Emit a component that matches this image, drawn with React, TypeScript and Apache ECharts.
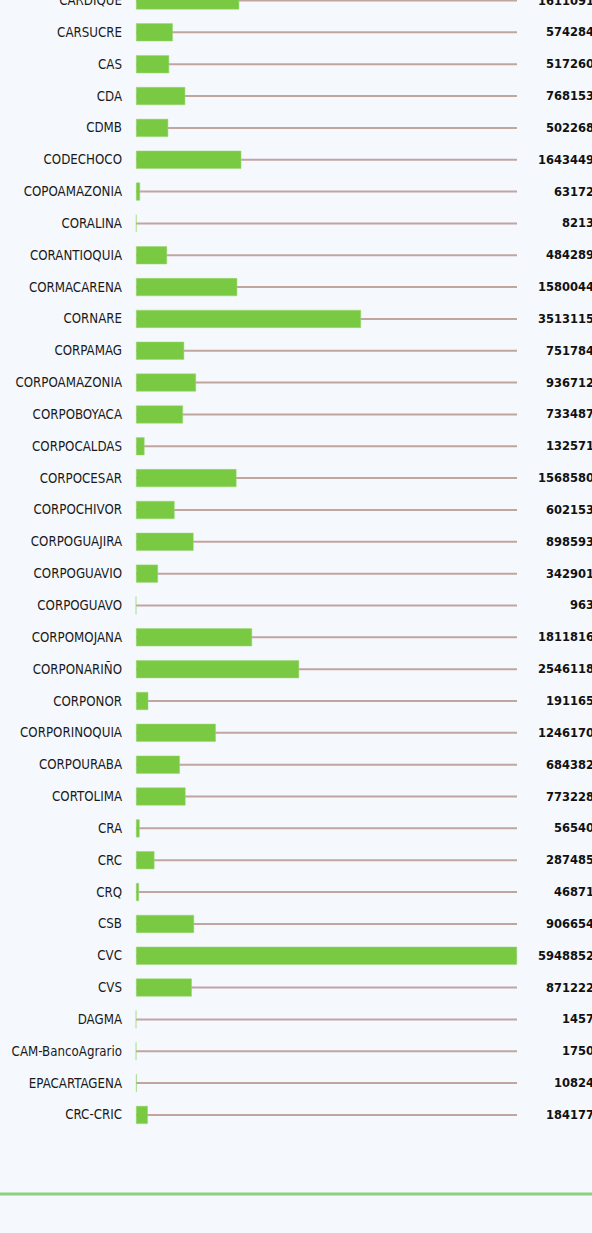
import React, { useEffect, useRef } from "react";
import * as echarts from "echarts";

const categories = [
  "CARDIQUE", "CARSUCRE", "CAS", "CDA", "CDMB", "CODECHOCO", "COPOAMAZONIA", "CORALINA",
  "CORANTIOQUIA", "CORMACARENA", "CORNARE", "CORPAMAG", "CORPOAMAZONIA", "CORPOBOYACA",
  "CORPOCALDAS", "CORPOCESAR", "CORPOCHIVOR", "CORPOGUAJIRA", "CORPOGUAVIO", "CORPOGUAVO",
  "CORPOMOJANA", "CORPONARIÑO", "CORPONOR", "CORPORINOQUIA", "CORPOURABA", "CORTOLIMA",
  "CRA", "CRC", "CRQ", "CSB", "CVC", "CVS", "DAGMA", "CAM-BancoAgrario", "EPACARTAGENA", "CRC-CRIC",
];

const values = [
  1611091, 574284, 517260, 768153, 502268, 1643449, 63172, 8213,
  484289, 1580044, 3513115, 751784, 936712, 733487,
  132571, 1568580, 602153, 898593, 342901, 963,
  1811816, 2546118, 191165, 1246170, 684382, 773228,
  56540, 287485, 46871, 906654, 5948852, 871222, 1457, 1750, 10824, 184177,
];

const maxValue = Math.max(...values);

export default function App() {
  const ref = useRef<HTMLDivElement>(null);
  useEffect(() => {
    document.body.style.margin = "0";
    document.body.style.background = "#f5f9fe";
    const chart = echarts.init(ref.current!, null, { renderer: "svg" });
    const rowH = 31.84;
    chart.setOption({
      animation: false,
      backgroundColor: "#f5f9fe",
      grid: { left: 136, right: 75, top: 0.6, height: categories.length * rowH, containLabel: false },
      xAxis: { type: "value", min: 0, max: maxValue, show: false },
      yAxis: [
        {
          type: "category",
          data: categories,
          inverse: true,
          axisLine: { show: false },
          axisTick: { show: false },
          axisLabel: {
            margin: 14,
            color: "#1a1a1a",
            fontSize: 13.2,
            fontFamily: "'DejaVu Sans Condensed', 'DejaVu Sans', sans-serif",
          },
        },
        {
          type: "category",
          data: categories,
          inverse: true,
          show: false,
        },
      ],
      series: [
        {
          type: "bar",
          yAxisIndex: 1,
          data: values.map(() => maxValue),
          barWidth: 2,
          silent: true,
          z: 1,
          itemStyle: { color: "#c2a4a1" },
          label: {
            show: true,
            position: ["100%", "50%"],
            align: "right",
            verticalAlign: "middle",
            offset: [77, 0],
            color: "#111",
            fontWeight: "bold",
            fontSize: 11.5,
            fontFamily: "'DejaVu Sans', sans-serif",
            formatter: (p: any) => String(values[p.dataIndex]),
          },
        },
        {
          type: "bar",
          yAxisIndex: 0,
          data: values,
          barWidth: 18,
          z: 2,
          itemStyle: { color: "#7ac943", borderColor: "#9bd873", borderWidth: 0.5 },
        },
      ],
      graphic: [
        {
          type: "line",
          shape: { x1: 0, y1: 1210, x2: 592, y2: 1210 },
          style: { stroke: "#8dd07e", lineWidth: 3 },
        },
      ],
    });
    return () => chart.dispose();
  }, []);
  return (
    <div style={{ width: 592, height: 1233, overflow: "hidden", position: "relative", background: "#f5f9fe" }}>
      <div ref={ref} style={{ position: "absolute", left: 0, top: -16, width: 592, height: 1249 }} />
    </div>
  );
}
